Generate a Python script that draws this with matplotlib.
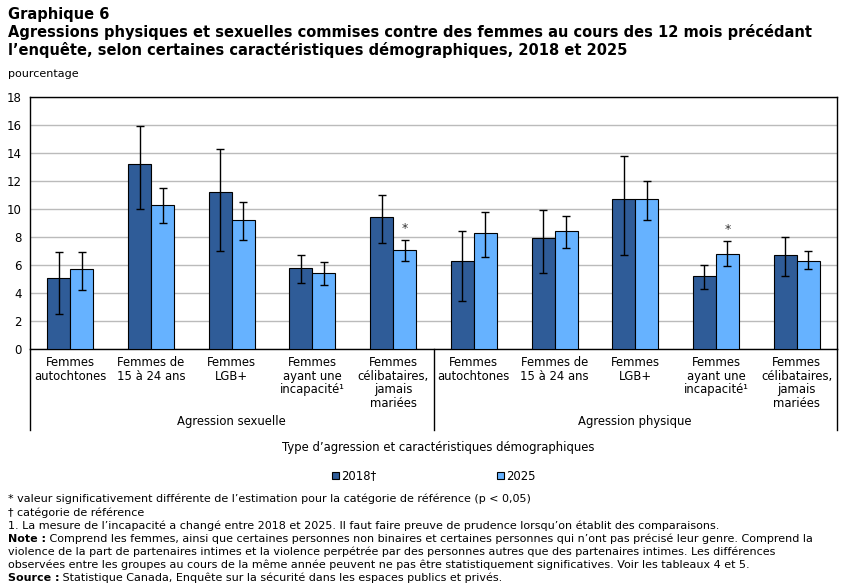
import numpy as np
import matplotlib
matplotlib.use('Agg')
import matplotlib.pyplot as plt
from matplotlib.patches import Patch
import matplotlib.transforms as mtransforms

# Data (percentages)
categories = ['Femmes\nautochtones', 'Femmes de\n15 à 24 ans', 'Femmes\nLGB+',
              'Femmes\nayant une\nincapacité¹', 'Femmes\ncélibataires,\njamais\nmariées']
groups = ['Agression sexuelle', 'Agression physique']
series_names = ['2018†', '2025']

val_2018 = [5.1, 13.2, 11.2, 5.8, 9.4, 6.3, 7.9, 10.7, 5.2, 6.7]
low_2018 = [2.5, 10.0, 7.0, 4.7, 7.6, 3.4, 5.4, 6.7, 4.3, 5.2]
high_2018 = [6.9, 15.9, 14.3, 6.7, 11.0, 8.4, 9.9, 13.8, 6.0, 8.0]

val_2025 = [5.7, 10.3, 9.2, 5.4, 7.1, 8.3, 8.4, 10.7, 6.8, 6.3]
low_2025 = [4.2, 9.0, 7.8, 4.6, 6.3, 6.6, 7.2, 9.2, 5.9, 5.7]
high_2025 = [6.9, 11.5, 10.5, 6.2, 7.8, 9.8, 9.5, 12.0, 7.7, 7.0]

signif_2025 = [False, False, False, False, True, False, False, False, True, False]

c2018 = '#2F5C98'
c2025 = '#66B2FF'

plt.rcParams['font.family'] = ['DejaVu Sans']

W, H = 851, 587
fig = plt.figure(figsize=(W / 100, H / 100), dpi=100)

# plot area in pixels
left, right, top, bottom = 30, 837, 97, 349
ax = fig.add_axes([left / W, 1 - bottom / H, (right - left) / W, (bottom - top) / H])

x = np.arange(len(val_2018))
bw = 0.285
v18 = np.array(val_2018)
v25 = np.array(val_2025)
err18 = [v18 - np.array(low_2018), np.array(high_2018) - v18]
err25 = [v25 - np.array(low_2025), np.array(high_2025) - v25]

ax.bar(x - bw / 2, v18, bw, color=c2018, edgecolor='black', linewidth=0.8, zorder=3)
ax.bar(x + bw / 2, v25, bw, color=c2025, edgecolor='black', linewidth=0.8, zorder=3)
ax.errorbar(x - bw / 2, v18, yerr=err18, fmt='none', ecolor='black', elinewidth=1,
            capsize=3, capthick=1, zorder=4)
ax.errorbar(x + bw / 2, v25, yerr=err25, fmt='none', ecolor='black', elinewidth=1,
            capsize=3, capthick=1, zorder=4)

for i, s in enumerate(signif_2025):
    if s:
        ax.text(x[i] + bw / 2, high_2025[i] + 0.35, '*', ha='center', va='bottom',
                fontsize=9, color='#333333')

ax.set_xlim(-0.5, len(x) - 0.5)
ax.set_ylim(0, 18)
ax.set_yticks(range(0, 19, 2))
ax.tick_params(axis='y', length=0, labelsize=8.5, pad=6)
ax.set_xticks([])
ax.grid(axis='y', color='#BBBBBB', linewidth=1, zorder=0)
ax.set_axisbelow(True)
for sp in ax.spines.values():
    sp.set_linewidth(1)
    sp.set_color('black')

# category labels and group separators
trans = mtransforms.blended_transform_factory(ax.transData, ax.transAxes)
h = bottom - top
for i in range(len(x)):
    ax.text(x[i], -7 / h, categories[i % 5], transform=trans, ha='center', va='top',
            fontsize=8.4, linespacing=1.07)
line_bottom = -(430 - bottom) / h
for xv in [-0.5, 4.5, 9.5]:
    ax.plot([xv, xv], [0, line_bottom], transform=trans, color='black', lw=1,
            clip_on=False)
for g, name in enumerate(groups):
    ax.text(g * 5 + 2, -(422 - bottom) / h, name, transform=trans, ha='center',
            va='center', fontsize=8.4)

fig.text(438 / W, 1 - 447 / H, 'Type d’agression et caractéristiques démographiques',
         ha='center', va='center', fontsize=8.4)

# legend
handles = [Patch(facecolor=c2018, edgecolor='black', linewidth=0.8),
           Patch(facecolor=c2025, edgecolor='black', linewidth=0.8)]
fig.legend(handles, series_names, loc='center', bbox_to_anchor=(434 / W, 1 - 476 / H),
           ncol=2, frameon=False, fontsize=8.4, handlelength=0.6, handleheight=0.6,
           handletextpad=0.2, columnspacing=10.3)

# titles
fig.text(8 / W, 1 - 14 / H, 'Graphique 6', fontsize=10.5, fontweight='bold', va='center')
fig.text(8 / W, 1 - 32 / H,
         'Agressions physiques et sexuelles commises contre des femmes au cours des 12 mois précédant',
         fontsize=10.5, fontweight='bold', va='center')
fig.text(8 / W, 1 - 50 / H,
         'l’enquête, selon certaines caractéristiques démographiques, 2018 et 2025',
         fontsize=10.5, fontweight='bold', va='center')
fig.text(8 / W, 1 - 74 / H, 'pourcentage', fontsize=8, va='center')

# footnotes
notes = [
    (499, '* valeur significativement différente de l’estimation pour la catégorie de référence (p < 0,05)', None),
    (513, '† catégorie de référence', None),
    (526, '1. La mesure de l’incapacité a changé entre 2018 et 2025. Il faut faire preuve de prudence lorsqu’on établit des comparaisons.', None),
    (539, ' Comprend les femmes, ainsi que certaines personnes non binaires et certaines personnes qui n’ont pas précisé leur genre. Comprend la', 'Note :'),
    (552, 'violence de la part de partenaires intimes et la violence perpétrée par des personnes autres que des partenaires intimes. Les différences', None),
    (565, 'observées entre les groupes au cours de la même année peuvent ne pas être statistiquement significatives. Voir les tableaux 4 et 5.', None),
    (578, ' Statistique Canada, Enquête sur la sécurité dans les espaces publics et privés.', 'Source :'),
]
for ypix, txt, bold in notes:
    if bold:
        t = fig.text(8 / W, 1 - ypix / H, bold, fontsize=8, fontweight='bold', va='center')
        fig.canvas.draw()
        bb = t.get_window_extent()
        fig.text(bb.x1 / W, 1 - ypix / H, txt, fontsize=8, va='center')
    else:
        fig.text(8 / W, 1 - ypix / H, txt, fontsize=8, va='center')

fig.savefig('out.png', dpi=100)
